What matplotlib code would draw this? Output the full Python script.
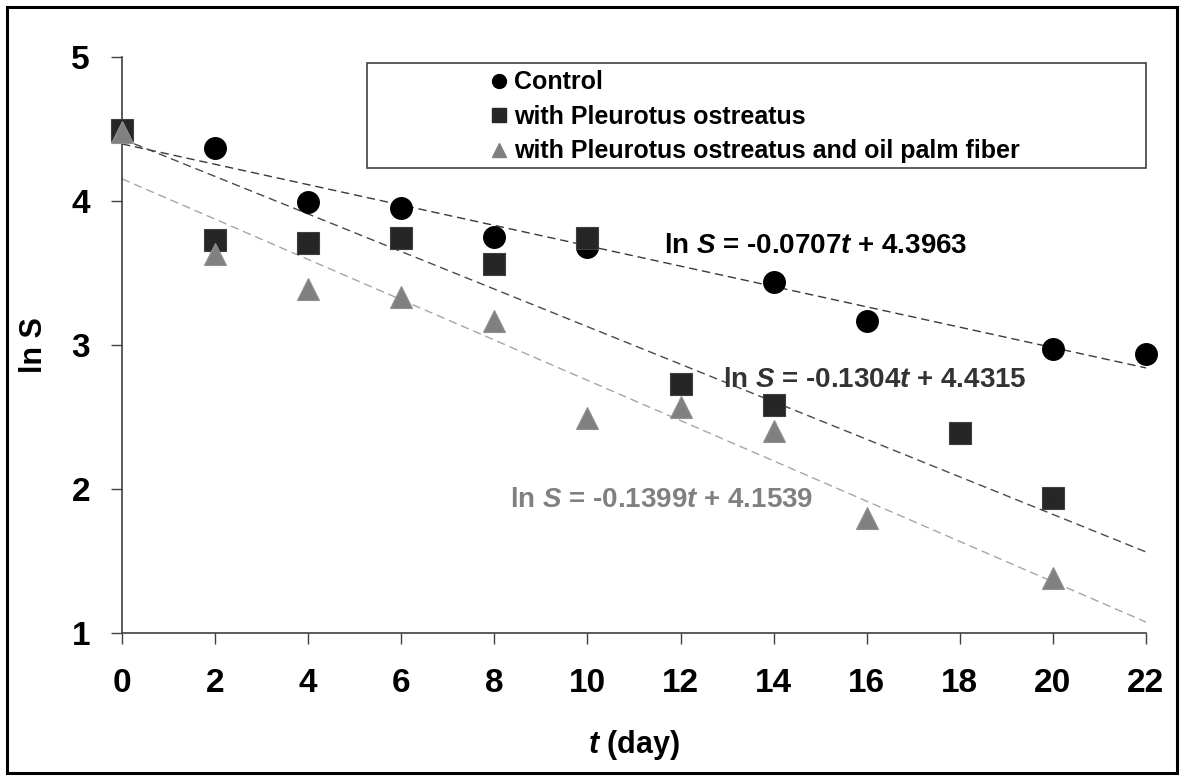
import matplotlib
matplotlib.use("Agg")
import matplotlib.pyplot as plt
from matplotlib.patches import Rectangle
import numpy as np

plt.rcParams['font.family'] = ['Liberation Sans', 'DejaVu Sans']
plt.rcParams['font.weight'] = 'bold'
plt.rcParams['mathtext.fontset'] = 'custom'
plt.rcParams['mathtext.it'] = 'Liberation Sans:italic:bold'
plt.rcParams['mathtext.rm'] = 'Liberation Sans:bold'
plt.rcParams['mathtext.bf'] = 'Liberation Sans:bold'

# data
control_t = [0, 2, 4, 6, 8, 10, 14, 16, 20, 22]
control_lns = [4.48, 4.37, 3.99, 3.95, 3.75, 3.68, 3.44, 3.17, 2.97, 2.94]

pleurotus_t = [0, 2, 4, 6, 8, 10, 12, 14, 18, 20]
pleurotus_lns = [4.49, 3.73, 3.71, 3.74, 3.56, 3.74, 2.73, 2.58, 2.39, 1.94]

fiber_t = [0, 2, 4, 6, 8, 10, 12, 14, 16, 20]
fiber_lns = [4.48, 3.63, 3.39, 3.33, 3.17, 2.49, 2.57, 2.40, 1.80, 1.38]

labels = ['Control', 'with Pleurotus ostreatus',
          'with Pleurotus ostreatus and oil palm fiber']

# trend lines as printed on the chart
fit_slope = [-0.0707, -0.1304, -0.1399]
fit_intercept = [4.3963, 4.4315, 4.1539]
fit_text = ['ln $S$ = -0.0707$t$ + 4.3963',
            'ln $S$ = -0.1304$t$ + 4.4315',
            'ln $S$ = -0.1399$t$ + 4.1539']
fit_text_pos = [(11.64, 3.64), (12.91, 2.71), (8.34, 1.875)]

x_ticks = list(range(0, 23, 2))
y_ticks = [1, 2, 3, 4, 5]


def main():
    fig = plt.figure(figsize=(11.84, 7.8), dpi=100)
    ax = fig.add_axes([0.1030, 0.18846, 0.8649, 0.73846])

    marker_colors = ['#000000', '#262626', '#808080']
    line_colors = ['#3a3a3a', '#4a4a4a', '#a6a6a6']
    text_colors = ['#000000', '#333333', '#808080']

    t_line = np.array([0, 22])
    for slope, icpt, col in zip(fit_slope, fit_intercept, line_colors):
        ax.plot(t_line, icpt + slope * t_line, color=col, lw=1.0,
                linestyle=(0, (6, 3.5)), zorder=2)

    ax.plot(control_t, control_lns, 'o', ms=15.5, color=marker_colors[0],
            mec=marker_colors[0], zorder=3, clip_on=False)
    ax.plot(pleurotus_t, pleurotus_lns, 's', ms=15.5, color=marker_colors[1],
            mec='#404040', mew=0.8, zorder=4, clip_on=False)
    ax.plot(fiber_t, fiber_lns, '^', ms=15.5, color=marker_colors[2],
            mec='#909090', mew=0.8, zorder=5, clip_on=False)

    for txt, (tx, ty), col in zip(fit_text, fit_text_pos, text_colors):
        ax.text(tx, ty, txt, color=col, fontsize=20, fontweight='bold',
                ha='left', va='baseline', zorder=6)

    ax.set_xlim(0, 22)
    ax.set_ylim(1, 5)
    ax.set_xticks(x_ticks)
    ax.set_yticks(y_ticks)
    ax.tick_params(axis='both', direction='out', length=8, width=1,
                   color='#404040', labelsize=24)
    ax.tick_params(axis='x', pad=17)
    ax.tick_params(axis='y', pad=15)
    for lab in ax.get_xticklabels() + ax.get_yticklabels():
        lab.set_fontweight('bold')

    for side in ['top', 'right']:
        ax.spines[side].set_visible(False)
    for side in ['left', 'bottom']:
        ax.spines[side].set_color('#404040')
        ax.spines[side].set_linewidth(1.2)

    ax.set_xlabel('$t$ (day)', fontsize=22, fontweight='bold')
    ax.xaxis.set_label_coords(0.5, -0.165)
    ax.xaxis.label.set_va('top')
    ax.set_ylabel('ln S', fontsize=22, fontweight='bold')
    ax.yaxis.set_label_coords(-0.071, 0.5)

    # legend: wide frame drawn by hand, entries centred inside it
    ax.add_patch(Rectangle((0.2393, 0.807), 1.0 - 0.2393, 0.990 - 0.807,
                           transform=ax.transAxes, fill=False,
                           edgecolor='#404040', lw=1.2, clip_on=False,
                           zorder=1))
    handles = [
        plt.Line2D([], [], ls='', marker='o', ms=10, color=marker_colors[0]),
        plt.Line2D([], [], ls='', marker='s', ms=10, color=marker_colors[1]),
        plt.Line2D([], [], ls='', marker='^', ms=10, color=marker_colors[2]),
    ]
    ax.legend(handles, labels, loc='center', bbox_to_anchor=(0.619, 0.896),
              frameon=False, handlelength=0.6,
              handletextpad=0.3, labelspacing=0.42, borderpad=0,
              prop={'weight': 'bold', 'size': 18})

    # outer border of the picture
    fig.patches.append(Rectangle((0.006, 0.009), 0.988, 0.982,
                                 transform=fig.transFigure, fill=False,
                                 edgecolor='black', lw=2.2))

    fig.savefig('out.png', dpi=100)


if __name__ == "__main__":
    main()
